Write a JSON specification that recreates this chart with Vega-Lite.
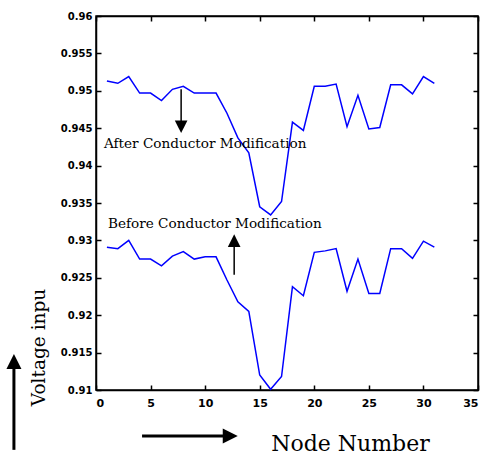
{
  "$schema": "https://vega.github.io/schema/vega-lite/v6.json",
  "width": 382,
  "height": 374,
  "autosize": {"type": "none"},
  "padding": {"left": 96, "top": 16, "right": 4, "bottom": 64},
  "background": "white",
  "config": {
    "view": {"stroke": "black", "strokeWidth": 1.5},
    "axis": {
      "grid": false,
      "domainColor": "black",
      "domainWidth": 1.5,
      "tickColor": "black",
      "tickWidth": 1.5,
      "tickSize": -5,
      "labelFont": "DejaVu Sans",
      "labelFontWeight": "bold",
      "labelColor": "black",
      "titleColor": "black",
      "titleFont": "DejaVu Serif",
      "titleFontWeight": "normal"
    }
  },
  "datasets": {
    "voltage": [
      {"series": "After", "node": 1, "v": 0.9513},
      {"series": "After", "node": 2, "v": 0.9510},
      {"series": "After", "node": 3, "v": 0.9519},
      {"series": "After", "node": 4, "v": 0.9497},
      {"series": "After", "node": 5, "v": 0.9497},
      {"series": "After", "node": 6, "v": 0.9487},
      {"series": "After", "node": 7, "v": 0.9502},
      {"series": "After", "node": 8, "v": 0.9506},
      {"series": "After", "node": 9, "v": 0.9497},
      {"series": "After", "node": 10, "v": 0.9497},
      {"series": "After", "node": 11, "v": 0.9497},
      {"series": "After", "node": 12, "v": 0.9470},
      {"series": "After", "node": 13, "v": 0.9437},
      {"series": "After", "node": 14, "v": 0.9417},
      {"series": "After", "node": 15, "v": 0.9345},
      {"series": "After", "node": 16, "v": 0.9334},
      {"series": "After", "node": 17, "v": 0.9352},
      {"series": "After", "node": 18, "v": 0.9458},
      {"series": "After", "node": 19, "v": 0.9447},
      {"series": "After", "node": 20, "v": 0.9506},
      {"series": "After", "node": 21, "v": 0.9506},
      {"series": "After", "node": 22, "v": 0.9509},
      {"series": "After", "node": 23, "v": 0.9452},
      {"series": "After", "node": 24, "v": 0.9494},
      {"series": "After", "node": 25, "v": 0.9449},
      {"series": "After", "node": 26, "v": 0.9451},
      {"series": "After", "node": 27, "v": 0.9508},
      {"series": "After", "node": 28, "v": 0.9508},
      {"series": "After", "node": 29, "v": 0.9496},
      {"series": "After", "node": 30, "v": 0.9519},
      {"series": "After", "node": 31, "v": 0.9510},
      {"series": "Before", "node": 1, "v": 0.9291},
      {"series": "Before", "node": 2, "v": 0.9289},
      {"series": "Before", "node": 3, "v": 0.9300},
      {"series": "Before", "node": 4, "v": 0.9275},
      {"series": "Before", "node": 5, "v": 0.9275},
      {"series": "Before", "node": 6, "v": 0.9266},
      {"series": "Before", "node": 7, "v": 0.9279},
      {"series": "Before", "node": 8, "v": 0.9285},
      {"series": "Before", "node": 9, "v": 0.9275},
      {"series": "Before", "node": 10, "v": 0.9278},
      {"series": "Before", "node": 11, "v": 0.9278},
      {"series": "Before", "node": 12, "v": 0.9247},
      {"series": "Before", "node": 13, "v": 0.9218},
      {"series": "Before", "node": 14, "v": 0.9205},
      {"series": "Before", "node": 15, "v": 0.9120},
      {"series": "Before", "node": 16, "v": 0.9101},
      {"series": "Before", "node": 17, "v": 0.9118},
      {"series": "Before", "node": 18, "v": 0.9238},
      {"series": "Before", "node": 19, "v": 0.9226},
      {"series": "Before", "node": 20, "v": 0.9284},
      {"series": "Before", "node": 21, "v": 0.9286},
      {"series": "Before", "node": 22, "v": 0.9289},
      {"series": "Before", "node": 23, "v": 0.9232},
      {"series": "Before", "node": 24, "v": 0.9275},
      {"series": "Before", "node": 25, "v": 0.9229},
      {"series": "Before", "node": 26, "v": 0.9229},
      {"series": "Before", "node": 27, "v": 0.9289},
      {"series": "Before", "node": 28, "v": 0.9289},
      {"series": "Before", "node": 29, "v": 0.9276},
      {"series": "Before", "node": 30, "v": 0.9299},
      {"series": "Before", "node": 31, "v": 0.9291}
    ],
    "notes": [
      {"label": "After Conductor Modification", "node": 0.73, "v": 0.9429},
      {"label": "Before Conductor Modification", "node": 1.1, "v": 0.9322}
    ],
    "arrows": [
      {"arrow": "after", "x": 7.8, "y": 0.9502, "x2": 7.8, "y2": 0.9452, "dir": "down"},
      {"arrow": "before", "x": 12.66, "y": 0.9254, "x2": 12.66, "y2": 0.92997, "dir": "up"},
      {"arrow": "yaxis", "x": -7.52, "y": 0.9020, "x2": -7.52, "y2": 0.9138, "dir": "up"},
      {"arrow": "xaxis", "x": 4.22, "y": 0.90386, "x2": 12.3, "y2": 0.90386, "dir": "right"}
    ]
  },
  "layer": [
    {
      "data": {"name": "voltage"},
      "mark": {"type": "line", "color": "#0000ff", "strokeWidth": 1.5},
      "encoding": {
        "x": {
          "field": "node", "type": "quantitative",
          "scale": {"domain": [0, 35], "nice": false},
          "axis": {
            "orient": "bottom",
            "values": [0, 5, 10, 15, 20, 25, 30, 35],
            "labelFontSize": 11,
            "labelPadding": 12,
            "title": "Node Number",
            "titleFontSize": 22,
            "titleX": 254,
            "titleY": 53,
            "titleBaseline": "middle",
            "titleAlign": "center"
          }
        },
        "y": {
          "field": "v", "type": "quantitative",
          "scale": {"domain": [0.91, 0.96], "nice": false, "zero": false},
          "axis": {
            "orient": "left",
            "values": [0.91, 0.915, 0.92, 0.925, 0.93, 0.935, 0.94, 0.945, 0.95, 0.955, 0.96],
            "format": ".3~f",
            "labelFontSize": 10,
            "labelPadding": 9,
            "title": "Voltage inpu",
            "titleFontSize": 18.5,
            "titleX": -58,
            "titleY": 331,
            "titleBaseline": "middle",
            "titleAlign": "center"
          }
        },
        "detail": {"field": "series", "type": "nominal"}
      }
    },
    {
      "data": {"name": "voltage"},
      "mark": {"type": "line", "opacity": 0},
      "encoding": {
        "x": {
          "field": "node", "type": "quantitative",
          "axis": {"orient": "top", "values": [0, 5, 10, 15, 20, 25, 30, 35], "labels": false, "title": null}
        },
        "y": {
          "field": "v", "type": "quantitative",
          "axis": {"orient": "right", "values": [0.91, 0.915, 0.92, 0.925, 0.93, 0.935, 0.94, 0.945, 0.95, 0.955, 0.96], "labels": false, "title": null}
        },
        "detail": {"field": "series", "type": "nominal"}
      }
    },
    {
      "data": {"name": "notes"},
      "mark": {"type": "text", "align": "left", "baseline": "middle", "font": "DejaVu Serif", "fontSize": 13.6, "color": "black"},
      "encoding": {
        "x": {"field": "node", "type": "quantitative", "axis": null},
        "y": {"field": "v", "type": "quantitative", "axis": null},
        "text": {"field": "label"}
      }
    },
    {
      "data": {"name": "arrows"},
      "transform": [{"filter": "datum.arrow == 'after' || datum.arrow == 'before'"}],
      "mark": {"type": "rule", "color": "black", "strokeWidth": 1.5},
      "encoding": {
        "x": {"field": "x", "type": "quantitative", "axis": null},
        "y": {"field": "y", "type": "quantitative", "axis": null},
        "x2": {"field": "x2"},
        "y2": {"field": "y2"}
      }
    },
    {
      "data": {"name": "arrows"},
      "transform": [{"filter": "datum.arrow == 'xaxis' || datum.arrow == 'yaxis'"}],
      "mark": {"type": "rule", "color": "black", "strokeWidth": 3},
      "encoding": {
        "x": {"field": "x", "type": "quantitative", "axis": null},
        "y": {"field": "y", "type": "quantitative", "axis": null},
        "x2": {"field": "x2"},
        "y2": {"field": "y2"}
      }
    },
    {
      "data": {"name": "arrows"},
      "transform": [{"filter": "datum.arrow == 'after' || datum.arrow == 'before'"}],
      "mark": {"type": "point", "filled": true, "color": "black", "opacity": 1, "size": 160},
      "encoding": {
        "x": {"field": "x2", "type": "quantitative", "axis": null},
        "y": {"field": "y2", "type": "quantitative", "axis": null},
        "shape": {
          "field": "dir", "type": "nominal", "legend": null,
          "scale": {"domain": ["down", "up", "right"], "range": ["M-1,-1L1,-1L0,1Z", "M-1,1L1,1L0,-1Z", "M-1,-1L1,0L-1,1Z"]}
        }
      }
    },
    {
      "data": {"name": "arrows"},
      "transform": [{"filter": "datum.arrow == 'xaxis' || datum.arrow == 'yaxis'"}],
      "mark": {"type": "point", "filled": true, "color": "black", "opacity": 1, "size": 225},
      "encoding": {
        "x": {"field": "x2", "type": "quantitative", "axis": null},
        "y": {"field": "y2", "type": "quantitative", "axis": null},
        "shape": {
          "field": "dir", "type": "nominal", "legend": null,
          "scale": {"domain": ["down", "up", "right"], "range": ["M-1,-1L1,-1L0,1Z", "M-1,1L1,1L0,-1Z", "M-1,-1L1,0L-1,1Z"]}
        }
      }
    }
  ],
  "resolve": {"axis": {"x": "independent", "y": "independent"}}
}
